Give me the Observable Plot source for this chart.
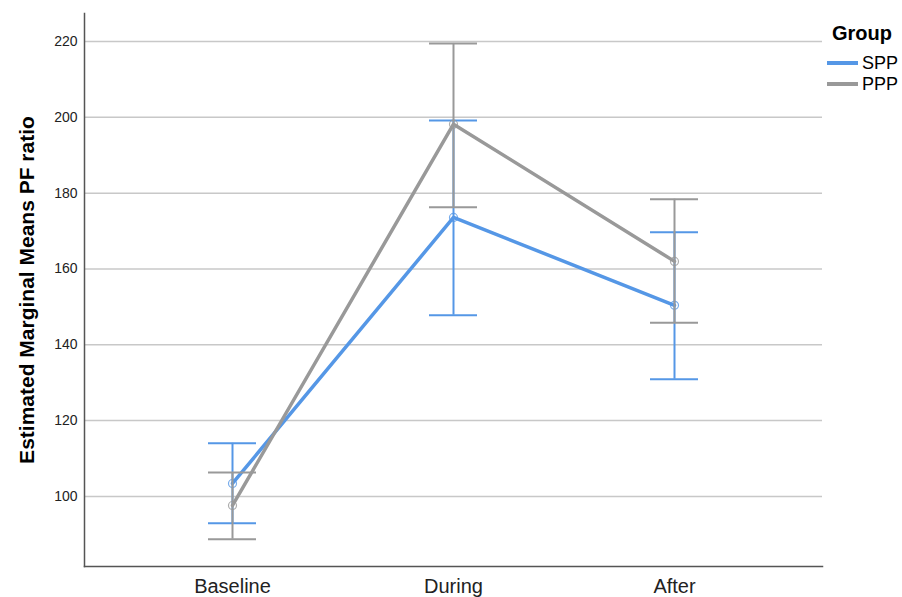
<!DOCTYPE html>
<html>
<head>
<meta charset="utf-8">
<script src="https://cdn.jsdelivr.net/npm/d3@7"></script>
<script src="https://cdn.jsdelivr.net/npm/@observablehq/plot@0.6"></script>
<style>
  html, body { margin: 0; padding: 0; background: #fff; }
  #wrap { position: relative; width: 902px; height: 597px; font-family: "Liberation Sans", Arial, sans-serif; }
  #legend { position: absolute; left: 827px; top: 0; color: #000; }
  #legend .title { position: absolute; left: 5px; top: 22px; font-weight: bold; font-size: 20px; line-height: 22px; white-space: nowrap; }
  #legend .item { position: absolute; left: 0; display: flex; align-items: center; font-size: 18px; height: 22px; white-space: nowrap; }
  #legend .swatch { width: 31px; height: 4px; margin-right: 4px; }
</style>
</head>
<body>
<div id="wrap">
  <div id="chart"></div>
  <div id="legend"></div>
</div>
<script>
// Estimated marginal means of PF ratio with 95% CI, by time point and group
const times = ["Baseline", "During", "After"];
const groups = ["SPP", "PPP"];
const colors = ["#5597e6", "#999999"];

const sppMean  = [103.4, 173.6, 150.4];
const sppLower = [92.9, 147.8, 130.9];
const sppUpper = [114.0, 199.2, 169.7];

const pppMean  = [97.6, 198.2, 162.0];
const pppLower = [88.7, 176.3, 145.8];
const pppUpper = [106.3, 219.5, 178.4];

const yTicks = [100, 120, 140, 160, 180, 200, 220];

const rows = [
  ...times.map((t, i) => ({group: "SPP", time: t, mean: sppMean[i], lo: sppLower[i], hi: sppUpper[i]})),
  ...times.map((t, i) => ({group: "PPP", time: t, mean: pppMean[i], lo: pppLower[i], hi: pppUpper[i]}))
];

const layers = groups.flatMap((g, k) => {
  const d = rows.filter(r => r.group === g);
  const c = colors[k];
  return [
    Plot.ruleX(d, {x: "time", y1: "lo", y2: "hi", stroke: c, strokeWidth: 2}),
    Plot.tickY(d, {x: "time", y: "lo", stroke: c, strokeWidth: 2}),
    Plot.tickY(d, {x: "time", y: "hi", stroke: c, strokeWidth: 2}),
    Plot.line(d, {x: "time", y: "mean", stroke: c, strokeWidth: 3.5}),
    Plot.dot(d, {x: "time", y: "mean", r: 4, stroke: c, strokeWidth: 1.2, fill: "none", strokeOpacity: 0.8})
  ];
});

const chart = Plot.plot({
  width: 902,
  height: 597,
  marginLeft: 84,
  marginRight: 80,
  marginTop: 13,
  marginBottom: 31,
  style: {fontFamily: "Liberation Sans, Arial, sans-serif", color: "#222", background: "#fff"},
  x: {type: "band", domain: times, paddingInner: 0.783, paddingOuter: 0.561, label: null},
  y: {domain: [81.5, 227.4], label: null},
  marks: [
    Plot.gridY(yTicks, {stroke: "#c8c8c8", strokeOpacity: 1, strokeWidth: 1.5}),
    Plot.axisY(yTicks, {tickSize: 0, tickPadding: 7, fontSize: 14, label: null, fill: "#222"}),
    Plot.axisX({tickSize: 0, tickPadding: 12, fontSize: 20, label: null, fill: "#222"}),
    Plot.frame({anchor: "left", stroke: "#555", strokeWidth: 1.5}),
    Plot.frame({anchor: "bottom", stroke: "#555", strokeWidth: 1.5}),
    Plot.text(["Estimated Marginal Means PF ratio"], {frameAnchor: "left", textAnchor: "middle", rotate: -90, dx: -57, fontSize: 21, fontWeight: "bold", fill: "#000"}),
    ...layers
  ]
});
document.getElementById("chart").appendChild(chart);

// Legend
const legend = document.getElementById("legend");
legend.innerHTML = `<div class="title">Group</div>` + groups.map((g, k) =>
  `<div class="item" style="top:${52 + k * 21}px"><span class="swatch" style="background:${colors[k]}"></span><span>${g}</span></div>`).join("");
</script>
</body>
</html>
